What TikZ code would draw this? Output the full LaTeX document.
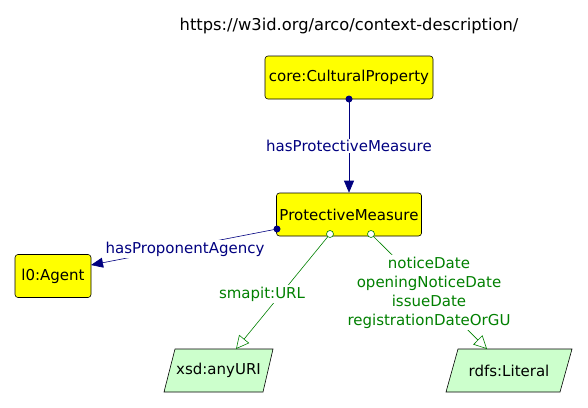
\documentclass[tikz,border=0pt]{standalone}
\usepackage{fontspec}
\setmainfont{DejaVu Sans}
\usetikzlibrary{arrows.meta}
\definecolor{boxyellow}{RGB}{255,255,0}
\definecolor{litgreen}{RGB}{204,255,204}
\definecolor{navyline}{RGB}{0,0,128}
\definecolor{greenline}{RGB}{0,128,0}
\tikzset{
  txt/.style={font=\fontsize{15}{19}\selectfont},
  classbox/.style={txt, draw=black, fill=boxyellow, rounded corners=3pt, minimum height=43pt, inner xsep=3pt, line width=0.6pt},
  litshape/.style={draw=black, fill=litgreen, line width=0.6pt},
  littext/.style={txt, minimum height=43pt},
  objprop/.style={draw=navyline, -{Triangle[length=12pt,width=10pt]}, line width=0.6pt},
  dataprop/.style={draw=greenline, -{Triangle[open,length=13pt,width=13pt]}, line width=0.6pt},
  navylab/.style={txt, text=navyline, fill=white, inner sep=1.5pt},
  greenlab/.style={txt, text=greenline, fill=white, inner sep=1.5pt, align=center},
  startdot/.style={circle, fill=navyline, inner sep=0pt, minimum size=7pt},
  startring/.style={circle, draw=greenline, fill=white, inner sep=0pt, minimum size=7pt, line width=0.6pt},
}
\begin{document}
\begin{tikzpicture}[x=1pt,y=-1pt]
\useasboundingbox (0,0) rectangle (588,407);
\node[font=\fontsize{16.3}{19}\selectfont] (title) at (349,26) {https://w3id.org/arco/context-description/};
\node[classbox, minimum width=168pt] (cp) at (349,77.5) {core:CulturalProperty};
\node[classbox, minimum width=145pt] (pm) at (349,214.5) {ProtectiveMeasure};
\node[classbox, minimum width=76pt] (ag) at (53,276) {l0:Agent};
% literal shapes
\draw[litshape] (175,349) -- (273,349) -- (263,392) -- (164,392) -- cycle;
\node[littext] (uri) at (218.5,370.5) {xsd:anyURI};
\draw[litshape] (458,349) -- (572,349) -- (560,392) -- (446,392) -- cycle;
\node[littext] (lit) at (509,370.5) {rdfs:Literal};
% object properties
\coordinate (s1) at (349,99);
\draw[objprop] (s1) -- (pm.north) node[navylab, midway] (l1) {hasProtectiveMeasure};
\node[startdot] at (s1) {};
\coordinate (s2) at (277,229);
\coordinate (e2) at (91,265);
\draw[objprop] (s2) -- (e2);
\node[navylab] (l2) at (185,249) {hasProponentAgency};
\node[startdot] at (s2) {};
% datatype properties
\coordinate (s3) at (330,234);
\coordinate (e3) at (236,349);
\draw[dataprop] (s3) -- (e3);
\node[greenlab] (l3) at (262,294) {smapit:URL};
\node[startring] at (s3) {};
\coordinate (s4) at (371,234);
\coordinate (e4) at (487,349);
\draw[dataprop] (s4) -- (e4);
\node[greenlab] (l4) at (429,292.5) {noticeDate\\openingNoticeDate\\issueDate\\registrationDateOrGU};
\node[startring] at (s4) {};
\end{tikzpicture}
\end{document}
